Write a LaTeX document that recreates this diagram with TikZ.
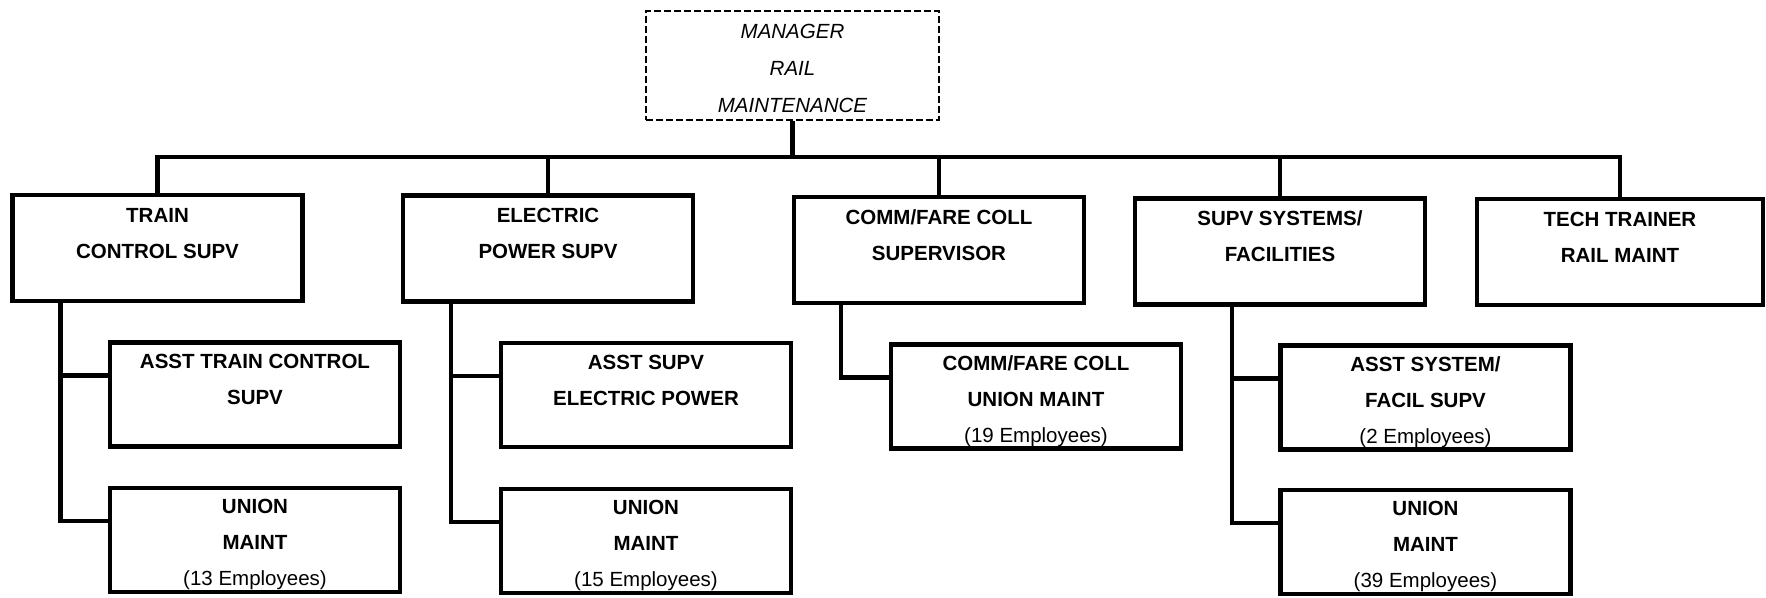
\documentclass[tikz,border=0pt]{standalone}
\usepackage{fontspec}
\setmainfont{Liberation Sans}
\newcommand\lnstrut{\rule[-4pt]{0pt}{28pt}}
\newcommand\boxrows[3]{\lnstrut#1\\\lnstrut#2\\\lnstrut#3}
\begin{document}
\begin{tikzpicture}[x=1pt,y=-1pt,
  orgbox/.style={draw, line width=4.3pt, minimum width=290pt, minimum height=106pt,
    inner sep=0pt, align=center, font=\bfseries\fontsize{20.5}{36}\selectfont},
  subbox/.style={orgbox, minimum height=104pt},
  topbox/.style={draw, line width=2pt, dash pattern=on 7pt off 3pt,
    minimum width=293pt, minimum height=109pt, inner sep=0pt, align=center,
    font=\itshape\fontsize{20.5}{37}\selectfont},
  conn/.style={line width=4.3pt, line join=miter}]
\useasboundingbox (0,0) rectangle (1766,597);

% head of the department
\node[topbox] (mgr) at (792.5,65.5) {\boxrows{MANAGER}{RAIL}{MAINTENANCE}};

% first level
\node[orgbox] (train) at (157.5,248) {\boxrows{TRAIN}{CONTROL SUPV}{}};
\node[orgbox] (elec)  at (548,248.5) {\boxrows{ELECTRIC}{POWER SUPV}{}};
\node[orgbox] (comm)  at (939,250)   {\boxrows{COMM/FARE COLL}{SUPERVISOR}{}};
\node[orgbox] (sys)   at (1280,251.5){\boxrows{SUPV SYSTEMS/}{FACILITIES}{}};
\node[orgbox, minimum width=286pt] (tech) at (1620,252) {\boxrows{TECH TRAINER}{RAIL MAINT}{}};

% second level
\node[subbox] (a1) at (255,394.5)  {\boxrows{ASST TRAIN CONTROL}{SUPV}{}};
\node[subbox] (u1) at (255,540)    {\boxrows{UNION}{MAINT}{\mdseries(13 Employees)}};
\node[subbox] (a2) at (646,395)    {\boxrows{ASST SUPV}{ELECTRIC POWER}{}};
\node[subbox] (u2) at (646,541)    {\boxrows{UNION}{MAINT}{\mdseries(15 Employees)}};
\node[subbox] (c3) at (1036,396.5) {\boxrows{COMM/FARE COLL}{UNION MAINT}{\mdseries(19 Employees)}};
\node[subbox] (a4) at (1425.5,397.5) {\boxrows{ASST SYSTEM/}{FACIL SUPV}{\mdseries(2 Employees)}};
\node[subbox] (u4) at (1425.5,542) {\boxrows{UNION}{MAINT}{\mdseries(39 Employees)}};

% main bus
\coordinate (bus) at (792.5,157);
\draw[conn] (mgr.south) -- (bus);
\draw[conn] (train.north) |- (bus) -| (tech.north);
\draw[conn] (elec.north) -- (elec.north |- bus);
\draw[conn] (comm.north) -- (comm.north |- bus);
\draw[conn] (sys.north) -- (sys.north |- bus);

% branch trunks
\coordinate (t1) at ([xshift=50pt]train.south west);
\coordinate (t2) at ([xshift=50pt]elec.south west);
\coordinate (t3) at ([xshift=49pt]comm.south west);
\coordinate (t4) at ([xshift=99pt]sys.south west);

\coordinate (a1j) at ([yshift=-35pt]a1.north west);
\coordinate (u1j) at ([yshift=-35pt]u1.north west);
\coordinate (a2j) at ([yshift=-35pt]a2.north west);
\coordinate (u2j) at ([yshift=-35pt]u2.north west);
\coordinate (c3j) at ([yshift=-35pt]c3.north west);
\coordinate (a4j) at ([yshift=-35pt]a4.north west);
\coordinate (u4j) at ([yshift=-35pt]u4.north west);

\draw[conn] (t1) |- (u1j);
\draw[conn] (a1j) -- (a1j -| t1);
\draw[conn] (t2) |- (u2j);
\draw[conn] (a2j) -- (a2j -| t2);
\draw[conn] (t3) |- (c3j);
\draw[conn] (t4) |- (u4j);
\draw[conn] (a4j) -- (a4j -| t4);
\end{tikzpicture}
\end{document}
